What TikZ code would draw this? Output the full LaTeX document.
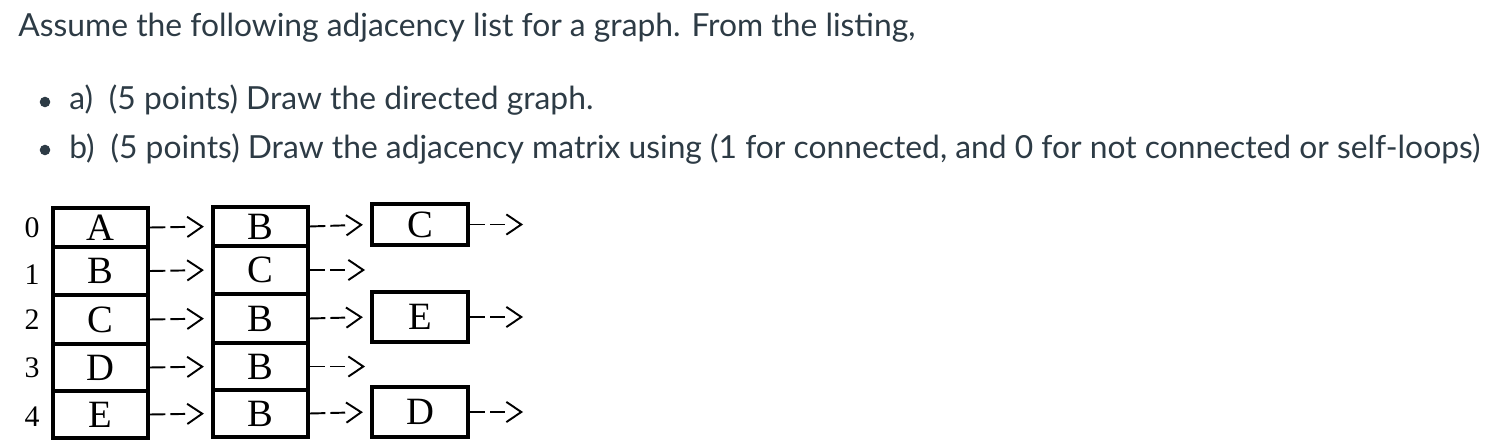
\documentclass[tikz,border=0pt]{standalone}
\usepackage{fontspec}
\setmainfont{Liberation Serif}
\newfontfamily\lato{Lato}
\usetikzlibrary{arrows.meta}
\definecolor{canvastext}{HTML}{2D3B45}
\begin{document}
\begin{tikzpicture}
    [x=0.02cm,y=-0.02cm,inner sep=0pt,
     prose/.style={anchor=base west,text=canvastext,font=\lato\fontsize{18.1}{21}\selectfont},
     bulletdot/.style={circle,fill=canvastext,minimum size=6pt},
     cell/.style={draw,line width=1.8pt,minimum width=1.9cm,font=\fontsize{22}{22}\selectfont},
     idx/.style={font=\fontsize{17}{17}\selectfont},
     link/.style={line width=1.1pt,dash pattern=on 9pt off 2.8pt on 8.5pt off 20pt,
       -{Straight Barb[length=8.5pt,width=11.5pt,line width=1.1pt]}},
     gap/.style={shorten >=4.3pt}]
    \useasboundingbox (0,0) rectangle (1500,446);
    % question text
    \node (title) at (18,37) [prose]
      {Assume the following adjacency list for a graph. From the listing,};
    \node (dot1) at (45,102) [bulletdot] {};
    \node (dot2) at (45,150) [bulletdot] {};
    \node (parta) at (69,110) [prose] {a)\hspace{0.5em}(5 points) Draw the directed graph.};
    \node (partb) at (69,158) [prose]
      {b)\hspace{0.5em}(5 points) Draw the adjacency matrix using (1 for connected, and 0 for not connected or self-loops)};
    % index column
    \node (i0) at (32,228) [idx] {0};
    \node (i1) at (32,275) [idx] {1};
    \node (i2) at (32,320) [idx] {2};
    \node (i3) at (32,368) [idx] {3};
    \node (i4) at (32,417) [idx] {4};
    % head vertices
    \node (a0) at (100.5,227.5) [cell,minimum height=0.78cm] {A};
    \node (a1) at (100.5,271) [cell,minimum height=0.96cm] {B};
    \node (a2) at (100.5,319.5) [cell,minimum height=0.98cm] {C};
    \node (a3) at (100.5,367.5) [cell,minimum height=0.94cm] {D};
    \node (a4) at (100.5,414.5) [cell,minimum height=0.94cm] {E};
    % first neighbours
    \node (b0) at (260.5,226.5) [cell,minimum height=0.78cm] {B};
    \node (b1) at (260.5,270) [cell,minimum height=0.96cm] {C};
    \node (b2) at (260.5,318.5) [cell,minimum height=0.98cm] {B};
    \node (b3) at (260.5,366.5) [cell,minimum height=0.94cm] {B};
    \node (b4) at (260.5,413.5) [cell,minimum height=0.94cm] {B};
    % second neighbours
    \node (c0) at (420,224.5) [cell,minimum width=1.92cm,minimum height=0.82cm] {C};
    \node (c2) at (420,317) [cell,minimum width=1.92cm,minimum height=1cm] {E};
    \node (c4) at (420,412) [cell,minimum width=1.92cm,minimum height=1cm] {D};
    % open ends
    \coordinate (n1) at (365,270);
    \coordinate (n3) at (365,366.5);
    \coordinate (m0) at (523,224.5);
    \coordinate (m2) at (523,317);
    \coordinate (m4) at (523,412);
    \draw [link,gap] (a0.east) to (b0.west);
    \draw [link,gap] (a1.east) to (b1.west);
    \draw [link,gap] (a2.east) to (b2.west);
    \draw [link,gap] (a3.east) to (b3.west);
    \draw [link,gap] (a4.east) to (b4.west);
    \draw [link,gap] (b0.east) to (c0.west);
    \draw [link] (b1.east) to (n1);
    \draw [link,gap] (b2.east) to (c2.west);
    \draw [link] (b3.east) to (n3);
    \draw [link,gap] (b4.east) to (c4.west);
    \draw [link] (c0.east) to (m0);
    \draw [link] (c2.east) to (m2);
    \draw [link] (c4.east) to (m4);
  \end{tikzpicture}
\end{document}
